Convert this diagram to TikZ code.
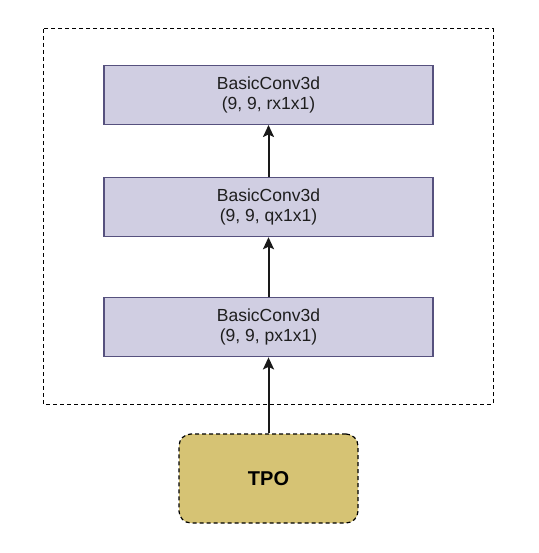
\documentclass[tikz,border=0pt]{standalone}
\usepackage{fontspec}
\setmainfont{Liberation Sans}
\usepackage{xcolor}
\usepackage{tikz}
\usetikzlibrary{positioning,arrows.meta}
\definecolor{convfill}{RGB}{208, 206, 226}
\definecolor{convdraw}{RGB}{86, 81, 126}
\definecolor{tpofill}{RGB}{214, 195, 116}
\definecolor{textgrey}{RGB}{30, 30, 30}

\begin{document}
\begin{tikzpicture}[x=1pt, y=1pt,
    conv/.style={rectangle, draw=convdraw, fill=convfill, line width=1.2pt,
                 minimum width=329pt, minimum height=59pt, align=center,
                 inner sep=0pt, text=textgrey, font=\fontsize{17.5}{20}\selectfont},
    input/.style={rectangle, rounded corners=12pt, draw=black, fill=tpofill,
                  dash pattern=on 4pt off 3pt, line width=1.2pt,
                  minimum width=179pt, minimum height=89pt,
                  font=\fontsize{20}{24}\selectfont\bfseries},
    frame/.style={draw=black, dash pattern=on 4pt off 3pt, line width=1pt},
    arrow/.style={-{Stealth[length=12pt, width=11pt, inset=2.5pt]}, line width=2pt, black!90}
]
\useasboundingbox (0,0) rectangle (538,-553);
\node[input] (tpo) at (268.5,-478.5) {TPO};
\node[conv, above=76pt of tpo] (convp) {BasicConv3d\\(9, 9, px1x1)};
\node[conv, above=60pt of convp] (convq) {BasicConv3d\\(9, 9, qx1x1)};
\node[conv, above=52pt of convq] (convr) {BasicConv3d\\(9, 9, rx1x1)};
\draw[frame] (43,-29) rectangle (493,-404);
\draw[arrow] (tpo) -- (convp);
\draw[arrow] (convp) -- (convq);
\draw[arrow] (convq) -- (convr);
\end{tikzpicture}
\end{document}
